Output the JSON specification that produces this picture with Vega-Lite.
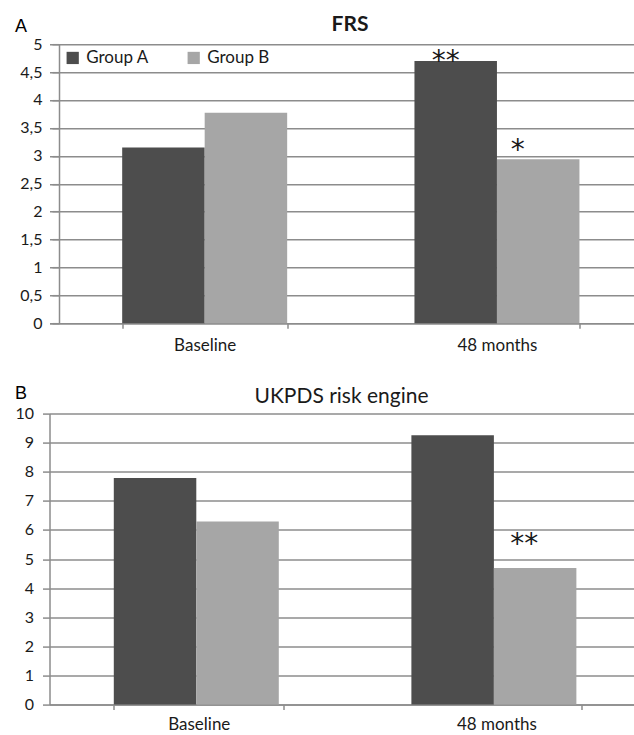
{
  "$schema": "https://vega.github.io/schema/vega-lite/v6.json",
  "padding": {"left": 14.5, "top": 14.2, "right": 0, "bottom": 0},
  "spacing": 30.4,
  "config": {
    "font": "Lato",
    "view": {"stroke": null},
    "axis": {
      "labelFont": "Lato",
      "labelColor": "#1a1a1a",
      "domainColor": "#8c8c8c",
      "tickColor": "#8c8c8c",
      "gridColor": "#8c8c8c",
      "domainWidth": 1.5,
      "gridWidth": 1.5,
      "tickWidth": 1.5
    },
    "title": {"font": "Lato", "color": "#1a1a1a", "baseline": "top", "frame": "group"}
  },
  "resolve": {"scale": {"color": "independent"}},
  "vconcat": [
    {
      "title": {"text": "A", "anchor": "start", "frame": "bounds", "font": "Liberation Sans", "fontSize": 18, "fontWeight": "normal", "color": "#000000", "baseline": "top", "offset": -21.8},
      "vconcat": [
        {
          "width": 585,
          "height": 279,
          "title": {"text": "FRS", "fontSize": 21, "fontWeight": "bold", "anchor": "middle", "frame": "group", "baseline": "top", "offset": 0.9, "dx": 8},
          "data": {"values": [
            {"time": "Baseline", "group": "Group A", "value": 3.15, "sig": ""},
            {"time": "Baseline", "group": "Group B", "value": 3.77, "sig": ""},
            {"time": "48 months", "group": "Group A", "value": 4.70, "sig": "**"},
            {"time": "48 months", "group": "Group B", "value": 2.94, "sig": "*"}
          ]},
          "encoding": {
            "x": {
              "field": "time", "type": "nominal", "sort": ["Baseline", "48 months"],
              "scale": {"paddingInner": 0.4355, "paddingOuter": 0.2185, "align": 0.569},
              "axis": {"title": null, "labelAngle": 0, "labelFontSize": 17, "tickSize": 5, "tickBand": "extent", "labelPadding": 9.2, "grid": false}
            },
            "y": {
              "field": "value", "type": "quantitative",
              "scale": {"domain": [0, 5], "nice": false},
              "axis": {
                "title": null,
                "values": [0, 0.5, 1, 1.5, 2, 2.5, 3, 3.5, 4, 4.5, 5],
                "labelExpr": "replace(toString(datum.value), '.', ',')",
                "offset": -9.5,
                "tickSize": 7, "labelPadding": 10, "labelFontSize": 16, "minExtent": 44
              }
            }
          },
          "layer": [
            {
              "mark": {"type": "bar"},
              "encoding": {
                "xOffset": {"field": "group", "type": "nominal", "scale": {"paddingInner": 0, "paddingOuter": 0}},
                "color": {
                  "field": "group", "type": "nominal",
                  "scale": {"domain": ["Group A", "Group B"], "range": ["#4d4d4d", "#a6a6a6"]},
                  "legend": {"title": null, "orient": "none", "legendX": 14.7, "legendY": 5, "direction": "horizontal", "symbolType": "square", "symbolSize": 150, "labelFontSize": 17, "labelFont": "Lato", "labelColor": "#1a1a1a", "columnPadding": 36, "padding": 0, "labelOffset": 5, "symbolStrokeWidth": 0}
                }
              }
            },
            {
              "transform": [{"filter": "datum.sig == '**'"}],
              "mark": {"type": "text", "font": "DejaVu Sans", "fontSize": 28, "dx": -10, "dy": 9.5, "baseline": "alphabetic", "color": "#1a1a1a"},
              "encoding": {"xOffset": {"field": "group", "type": "nominal"}, "text": {"field": "sig"}}
            },
            {
              "transform": [{"filter": "datum.sig == '*'"}],
              "mark": {"type": "text", "font": "DejaVu Sans", "fontSize": 28, "dx": -20.5, "dy": -0.5, "baseline": "alphabetic", "color": "#1a1a1a"},
              "encoding": {"xOffset": {"field": "group", "type": "nominal"}, "text": {"field": "sig"}}
            }
          ]
        }
      ]
    },
    {
      "title": {"text": "B", "anchor": "start", "frame": "bounds", "font": "Liberation Sans", "fontSize": 18, "fontWeight": "normal", "color": "#000000", "baseline": "top", "offset": -17.8},
      "vconcat": [
        {
          "width": 584,
          "height": 291,
          "title": {"text": "UKPDS risk engine", "fontSize": 21, "fontWeight": "normal", "anchor": "middle", "frame": "group", "baseline": "top", "offset": -1.1},
          "data": {"values": [
            {"time": "Baseline", "group": "Group A", "value": 7.79, "sig": ""},
            {"time": "Baseline", "group": "Group B", "value": 6.29, "sig": ""},
            {"time": "48 months", "group": "Group A", "value": 9.26, "sig": ""},
            {"time": "48 months", "group": "Group B", "value": 4.69, "sig": "**"}
          ]},
          "encoding": {
            "x": {
              "field": "time", "type": "nominal", "sort": ["Baseline", "48 months"],
              "scale": {"paddingInner": 0.429, "paddingOuter": 0.1957, "align": 0.552},
              "axis": {"title": null, "labelAngle": 0, "labelFontSize": 17, "tickSize": 5, "tickBand": "extent", "labelPadding": 7, "grid": false}
            },
            "y": {
              "field": "value", "type": "quantitative",
              "scale": {"domain": [0, 10], "nice": false},
              "axis": {
                "title": null,
                "values": [0, 1, 2, 3, 4, 5, 6, 7, 8, 9, 10],
                "tickSize": 7, "labelPadding": 9, "labelFontSize": 16, "minExtent": 34.5
              }
            }
          },
          "layer": [
            {
              "mark": {"type": "bar"},
              "encoding": {
                "xOffset": {"field": "group", "type": "nominal", "scale": {"paddingInner": 0, "paddingOuter": 0}},
                "color": {
                  "field": "group", "type": "nominal",
                  "scale": {"domain": ["Group A", "Group B"], "range": ["#4d4d4d", "#a6a6a6"]},
                  "legend": null
                }
              }
            },
            {
              "transform": [{"filter": "datum.sig == '**'"}],
              "mark": {"type": "text", "font": "DejaVu Sans", "fontSize": 28, "dx": -11, "dy": -15.4, "baseline": "alphabetic", "color": "#1a1a1a"},
              "encoding": {"xOffset": {"field": "group", "type": "nominal"}, "text": {"field": "sig"}}
            }
          ]
        }
      ]
    }
  ]
}
